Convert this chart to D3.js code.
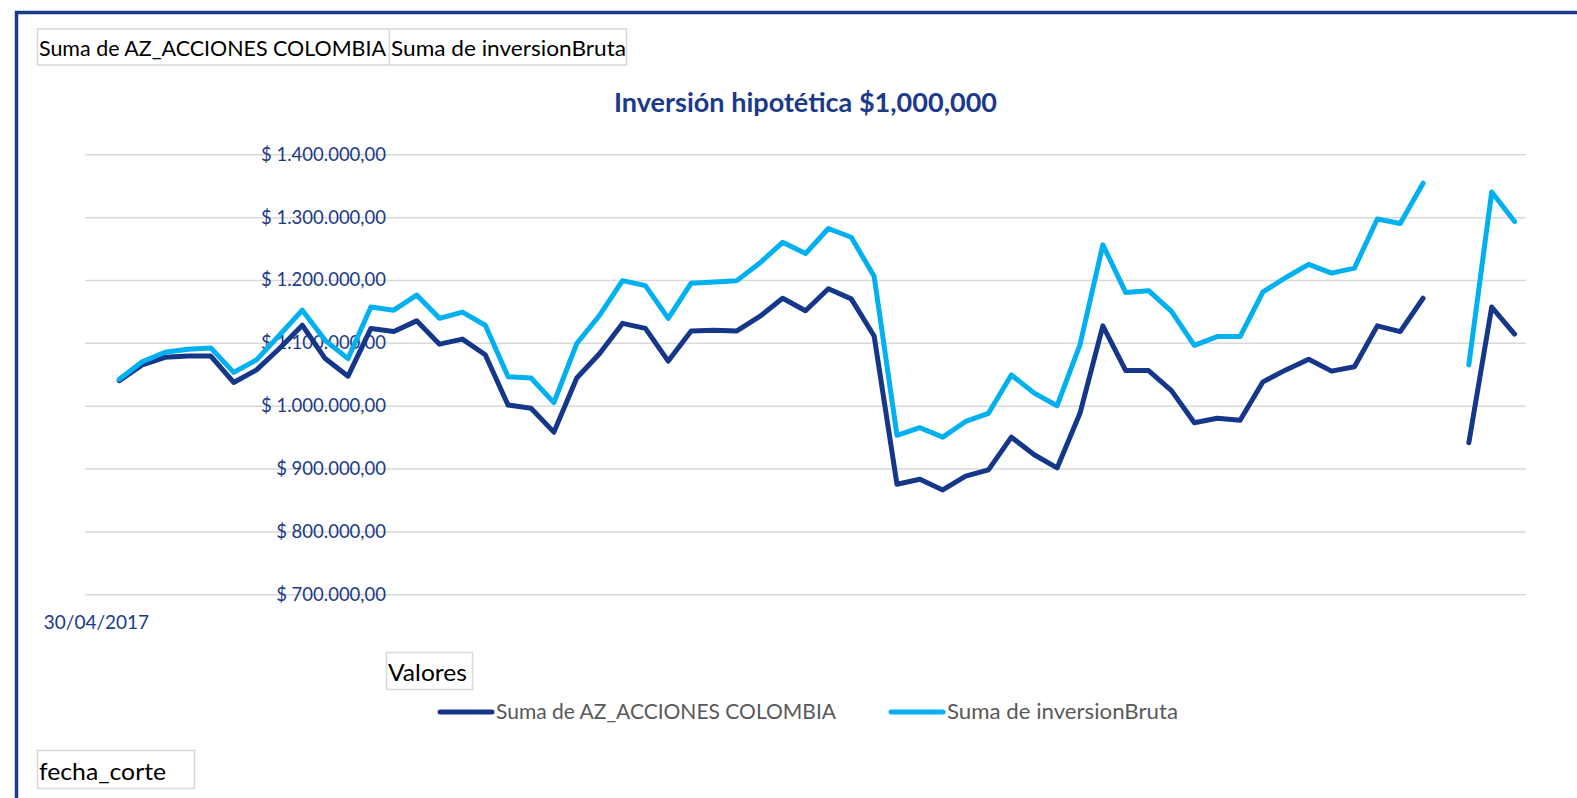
<!DOCTYPE html>
<html>
<head>
<meta charset="utf-8">
<script src="https://cdn.jsdelivr.net/npm/d3@7"></script>
<style>
  body { margin: 0; background: #fff; }
  text { font-family: Lato, "Open Sans", sans-serif; }
</style>
</head>
<body>
<script>

// serie names and title
var titulo = "Inversión hipotética $1,000,000";
var series = ["Suma de AZ_ACCIONES COLOMBIA", "Suma de inversionBruta"];

// month-end dates used as categories (only the first one is labelled in the chart)
var fechas = d3.timeMonth.range(new Date(2017, 3, 1), new Date(2022, 6, 1)).map(function(d) {
    return d3.timeFormat("%d/%m/%Y")(d3.timeDay.offset(d3.timeMonth.offset(d, 1), -1));
});
var fechasConEtiqueta = [fechas[0]];

// y ticks
var ticksY = [700000, 800000, 900000, 1000000, 1100000, 1200000, 1300000, 1400000];

// values (null = no data)
var accionesColombia = [null,
    1040000, 1065000, 1077000, 1079000, 1079000, 1037000, 1057000, 1091000, 1128000, 1075000,
    1047000, 1123000, 1118000, 1135000, 1098000, 1106000, 1081000, 1001000, 996000, 958000,
    1044000, 1083000, 1131000, 1123000, 1071000, 1119000, 1120000, 1119000, 1142000, 1171000,
    1151000, 1186000, 1170000, 1111000, 875000, 883000, 866000, 888000, 898000, 950000,
    922000, 901000, 988000, 1127000, 1056000, 1056000, 1024000, 973000, 980000, 977000,
    1038000, 1057000, 1074000, 1055000, 1062000, 1127000, 1118000, 1171000, null, 941000,
    1157000, 1114000];

var inversionBruta = [null,
    1042000, 1070000, 1085000, 1090000, 1092000, 1053000, 1073000, 1112000, 1152000, 1104000,
    1075000, 1157000, 1152000, 1176000, 1139000, 1149000, 1128000, 1046000, 1044000, 1005000,
    1099000, 1144000, 1199000, 1191000, 1139000, 1195000, 1197000, 1199000, 1227000, 1260000,
    1242000, 1282000, 1268000, 1206000, 953000, 965000, 950000, 975000, 988000, 1049000,
    1020000, 1000000, 1097000, 1256000, 1180000, 1183000, 1150000, 1096000, 1110000, 1110000,
    1181000, 1204000, 1225000, 1211000, 1219000, 1297000, 1290000, 1354000, null, 1065000,
    1340000, 1293000];

var colores = ["#14378a", "#00b0f0"];

var width = 1577, height = 798;
var azul = "#1b3a8a";

var svg = d3.select("body").append("svg").attr("width", width).attr("height", height);

// squeeze / stretch a text to the width it has in the original (Calibri is not installed)
function ajustar(sel, w) {
    sel.attr("textLength", w).attr("lengthAdjust", "spacingAndGlyphs");
    return sel;
}

// frame
svg.append("path")
    .attr("d", "M16.5," + height + " L16.5,12.5 L" + width + ",12.5")
    .attr("fill", "none").attr("stroke", azul).attr("stroke-width", 3.5);

// field buttons
function boton(x, y, w, h, txt, fs, tw) {
    svg.append("rect").attr("x", x).attr("y", y).attr("width", w).attr("height", h)
        .attr("fill", "#fff").attr("stroke", "#d9d9d9").attr("stroke-width", 1.5);
    ajustar(svg.append("text").attr("x", x + 1.5).attr("y", y + h / 2).attr("dy", "0.45em")
        .attr("font-size", fs + "px").attr("fill", "#000").text(txt), tw);
}
boton(37.5, 29, 352, 36, series[0], 21, 347);
boton(389.5, 29, 237, 36, series[1], 21, 235);
boton(386.5, 652.5, 86, 37, "Valores", 23, 79);
boton(37.5, 750.5, 157, 38, "fecha_corte", 23, 127);

// title
ajustar(svg.append("text").attr("x", 805.5).attr("y", 112).attr("text-anchor", "middle")
    .attr("font-size", "27px").attr("font-weight", "bold").attr("fill", azul).text(titulo), 383);

// scales
var x = d3.scaleBand().domain(fechas).range([85, 1526]).padding(0);
var y = d3.scaleLinear().domain([700000, 1400000]).range([594.3, 154.3]);

var locale = d3.formatLocale({decimal: ",", thousands: ".", grouping: [3], currency: ["$ ", ""]});
var fmt = locale.format("$,.2f");

// gridlines
var grid = svg.append("g").attr("transform", "translate(85,0)")
    .call(d3.axisRight(y).tickValues(ticksY).tickSize(1441).tickFormat(""));
grid.select(".domain").remove();
grid.selectAll("line").attr("stroke", "#d9d9d9").attr("stroke-width", 1.5);

// y labels (sitting inside the plot like the original)
var ejeY = svg.append("g").attr("transform", "translate(386,0)")
    .call(d3.axisLeft(y).tickValues(ticksY).tickSize(0).tickPadding(0).tickFormat(fmt));
ejeY.select(".domain").remove();
ejeY.selectAll("text").attr("font-family", "Lato, sans-serif").attr("font-size", "18.5px").attr("fill", azul);

// x axis: only first date
var ejeX = svg.append("g").attr("transform", "translate(0,594.3)")
    .call(d3.axisBottom(x).tickValues(fechasConEtiqueta).tickSize(0).tickPadding(21));
ejeX.select(".domain").remove();
ejeX.selectAll("text").attr("font-family", "Lato, sans-serif").attr("font-size", "19px").attr("fill", azul);

// lines
var linea = d3.line()
    .defined(function(d) { return d != null; })
    .x(function(d, i) { return x(fechas[i]) + x.bandwidth() / 2; })
    .y(function(d) { return y(d); });

[accionesColombia, inversionBruta].forEach(function(serie, k) {
    svg.append("path").datum(serie)
        .attr("d", linea)
        .attr("fill", "none")
        .attr("stroke", colores[k])
        .attr("stroke-width", 5)
        .attr("stroke-linejoin", "round")
        .attr("stroke-linecap", "round");
});

// legend
var leyendaX = [440, 891];
var leyendaW = [340, 231];
series.forEach(function(s, k) {
    svg.append("line").attr("x1", leyendaX[k]).attr("x2", leyendaX[k] + 52)
        .attr("y1", 712).attr("y2", 712)
        .attr("stroke", colores[k]).attr("stroke-width", 5).attr("stroke-linecap", "round");
    ajustar(svg.append("text").attr("x", leyendaX[k] + 56).attr("y", 712).attr("dy", "0.35em")
        .attr("font-size", "20.5px").attr("fill", "#595959").text(s), leyendaW[k]);
});

</script>
</body>
</html>
